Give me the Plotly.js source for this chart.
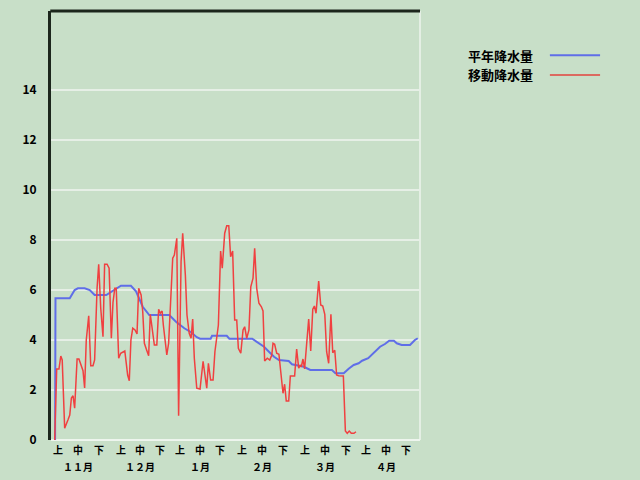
<!DOCTYPE html>
<html>
<head>
<meta charset="utf-8">
<script src="https://cdn.plot.ly/plotly-3.0.1.min.js"></script>
<style>html,body{margin:0;padding:0;background:#c8dfc8;}#chart{width:640px;height:480px;}</style>
</head>
<body>
<div id="chart"></div>
<script>
// Day index from 1 Nov (x), precipitation values (y)
const normalDays = [2.0, 2.2, 9.2, 11.6, 13.2, 16.5, 19.0, 21.4, 27.1, 32.0, 34.3, 39.2, 41.7, 45.0, 48.2, 58.0, 61.3, 65.4, 68.7, 71.5, 73.1, 78.3, 79.0, 86.2, 87.5, 98.7, 102.0, 104.5, 106.9, 109.4, 111.8, 114.3, 116.6, 118.2, 124.0, 127.2, 137.8, 139.5, 143.6, 146.0, 148.5, 150.9, 152.6, 155.6, 158.1, 161.4, 163.8, 165.9, 168.2, 169.6, 172.0, 176.1, 178.5, 179.9];
const normalVals = [0, 5.67, 5.67, 6.0, 6.07, 6.07, 6.0, 5.8, 5.8, 6.07, 6.17, 6.17, 5.95, 5.33, 5.0, 5.0, 4.73, 4.47, 4.31, 4.11, 4.05, 4.05, 4.17, 4.17, 4.05, 4.05, 3.87, 3.73, 3.53, 3.33, 3.2, 3.17, 3.16, 3.03, 2.93, 2.8, 2.8, 2.67, 2.67, 2.85, 3.0, 3.07, 3.17, 3.27, 3.47, 3.73, 3.84, 3.97, 3.97, 3.87, 3.8, 3.8, 4.0, 4.07];

const movingDays = [1.8, 2.8, 3.9, 4.8, 5.5, 6.7, 8.3, 9.2, 10.0, 10.8, 11.6, 12.8, 13.7, 14.9, 15.7, 16.5, 17.3, 18.5, 19.5, 20.6, 21.4, 22.6, 23.4, 24.4, 25.5, 26.3, 27.5, 28.5, 29.6, 30.4, 31.3, 32.0, 33.2, 34.2, 36.2, 37.6, 38.4, 39.2, 40.1, 41.2, 42.2, 43.0, 44.2, 45.0, 45.8, 46.9, 47.9, 48.7, 49.5, 50.7, 51.9, 52.8, 53.6, 54.5, 55.1, 55.9, 56.8, 57.7, 58.9, 59.7, 60.5, 61.7, 62.6, 63.8, 64.6, 65.9, 66.7, 67.8, 68.7, 69.5, 70.3, 71.5, 73.1, 74.6, 76.4, 77.2, 78.3, 79.5, 80.4, 82.1, 83.2, 84.0, 85.2, 86.2, 87.2, 88.1, 89.1, 90.1, 91.1, 91.9, 93.1, 94.2, 95.0, 96.0, 97.1, 98.0, 99.1, 99.9, 100.9, 102.0, 103.2, 104.0, 104.8, 106.1, 107.3, 108.3, 108.9, 109.7, 110.7, 111.8, 112.7, 113.8, 114.6, 115.4, 116.6, 117.4, 119.5, 120.5, 121.5, 122.3, 122.8, 123.6, 124.4, 125.4, 126.4, 127.4, 128.4, 129.2, 130.0, 131.3, 132.3, 133.3, 134.3, 135.2, 136.2, 137.3, 138.2, 139.2, 140.1, 141.1, 143.4, 144.4, 145.3, 146.3, 147.3, 148.6, 149.6];
const movingVals = [0, 2.84, 2.84, 3.36, 3.2, 0.47, 0.8, 1.0, 1.68, 1.77, 1.27, 3.24, 3.24, 2.93, 2.77, 2.08, 4.0, 4.97, 2.97, 2.97, 3.2, 6.07, 7.03, 5.27, 4.13, 7.03, 7.03, 6.87, 4.07, 5.5, 6.07, 6.07, 3.27, 3.47, 3.56, 2.6, 2.37, 4.0, 4.47, 4.4, 4.24, 6.07, 5.8, 5.13, 3.87, 3.6, 3.37, 5.03, 4.6, 3.8, 3.8, 5.23, 5.07, 5.16, 4.6, 3.93, 3.4, 3.87, 5.8, 7.27, 7.4, 8.07, 0.97, 7.13, 8.27, 6.6, 5.0, 4.27, 4.07, 4.84, 3.27, 2.07, 2.04, 3.15, 2.07, 3.07, 2.4, 2.4, 3.53, 4.6, 7.56, 6.87, 8.27, 8.57, 8.57, 7.33, 7.56, 4.8, 4.8, 3.67, 3.47, 4.4, 4.53, 4.07, 4.4, 6.13, 6.47, 7.67, 6.07, 5.47, 5.33, 5.16, 3.16, 3.27, 3.2, 3.4, 3.87, 3.83, 3.47, 3.43, 2.73, 1.87, 2.23, 1.56, 1.56, 2.56, 2.56, 3.64, 2.87, 3.0, 2.93, 3.24, 2.84, 3.8, 4.84, 3.56, 5.23, 5.36, 5.07, 6.36, 5.4, 5.36, 5.03, 3.53, 3.07, 5.03, 3.49, 3.59, 2.6, 2.57, 2.56, 0.36, 0.27, 0.36, 0.27, 0.27, 0.33];

const tickDays = [3.4, 13.2, 23.5, 34.3, 43.6, 53.5, 63.3, 73.1, 82.9, 93.7, 103.5, 113.8, 124.6, 134.4, 144.7, 154.5, 164.3, 174.1];
const tickLabels = ["上", "中", "下", "上", "中", "下", "上", "中", "下", "上", "中", "下", "上", "中", "下", "上", "中", "下"];
const monthDays = [13.2, 43.6, 73.1, 103.5, 134.4, 164.3];
const monthLabels = ["１１月", "１２月", "１月", "２月", "３月", "４月"];
const yTicks = [0, 2, 4, 6, 8, 10, 12, 14];

const seriesNames = ["平年降水量", "移動降水量"];
const seriesColors = ["#5f6ee8", "#f04040"];

const bg = "#c8dfc8";
const font = "'Noto Sans CJK JP', 'Noto Sans', sans-serif";

const traces = [
  {x: normalDays, y: normalVals, type: "scatter", mode: "lines", name: seriesNames[0],
   line: {color: seriesColors[0], width: 2}},
  {x: movingDays, y: movingVals, type: "scatter", mode: "lines", name: seriesNames[1],
   line: {color: seriesColors[1], width: 1.5}}
];

const legendY = [0.897, 0.851];
const annotations = seriesNames.map((n, i) => ({
  text: "<b>" + n + "</b>", xref: "paper", yref: "paper", x: 1.125, y: legendY[i],
  xanchor: "left", yanchor: "middle", showarrow: false,
  font: {family: font, size: 13, color: "#000"}
})).concat(monthLabels.map((m, i) => ({
  text: "<b>" + m + "</b>", xref: "x", yref: "paper", x: monthDays[i], y: -0.0615,
  xanchor: "center", yanchor: "middle", showarrow: false, borderpad: 0,
  font: {family: font, size: 10, color: "#000"}
})));
const shapes = [
  // legend samples
  {type: "line", xref: "paper", yref: "paper", x0: 1.352, x1: 1.488, y0: legendY[0], y1: legendY[0], line: {color: seriesColors[0], width: 2}},
  {type: "line", xref: "paper", yref: "paper", x0: 1.352, x1: 1.488, y0: legendY[1], y1: legendY[1], line: {color: "#dc6a60", width: 2}},
  // frame
  {type: "line", xref: "paper", yref: "paper", x0: 1, x1: 1, y0: 0, y1: 1, line: {color: "#eef5ee", width: 1.5}, layer: "below"},
  {type: "line", xref: "paper", yref: "paper", x0: 0, x1: 1, y0: 0, y1: 0, line: {color: "#eef5ee", width: 2}, layer: "below"},
  {type: "line", xref: "paper", yref: "paper", x0: -0.002, x1: 1, y0: 1, y1: 1, line: {color: "#1c261c", width: 3}}
];

const layout = {
  width: 640, height: 480,
  paper_bgcolor: bg, plot_bgcolor: bg,
  margin: {l: 51, r: 220, t: 11, b: 40, pad: 0},
  showlegend: false,
  hovermode: false,
  xaxis: {
    range: [0, 181], showgrid: false, zeroline: false, showline: false,
    tickmode: "array", tickvals: tickDays, ticktext: tickLabels,
    ticks: "", tickangle: 0, ticklabelstandoff: 3,
    tickfont: {family: font, size: 10, color: "#000", weight: "bold"}
  },
  yaxis: {
    range: [0, 17.16], zeroline: false,
    showline: true, linecolor: "#1c261c", linewidth: 3,
    showgrid: true, gridcolor: "#e6efe6", gridwidth: 1.5,
    tickmode: "array", tickvals: yTicks, ticktext: yTicks.map(String),
    ticks: "", ticklabelstandoff: 9,
    tickfont: {family: font, size: 12, color: "#000", weight: "bold"}
  },
  annotations: annotations,
  shapes: shapes
};

Plotly.newPlot("chart", traces, layout, {staticPlot: true, displayModeBar: false});
</script>
</body>
</html>
